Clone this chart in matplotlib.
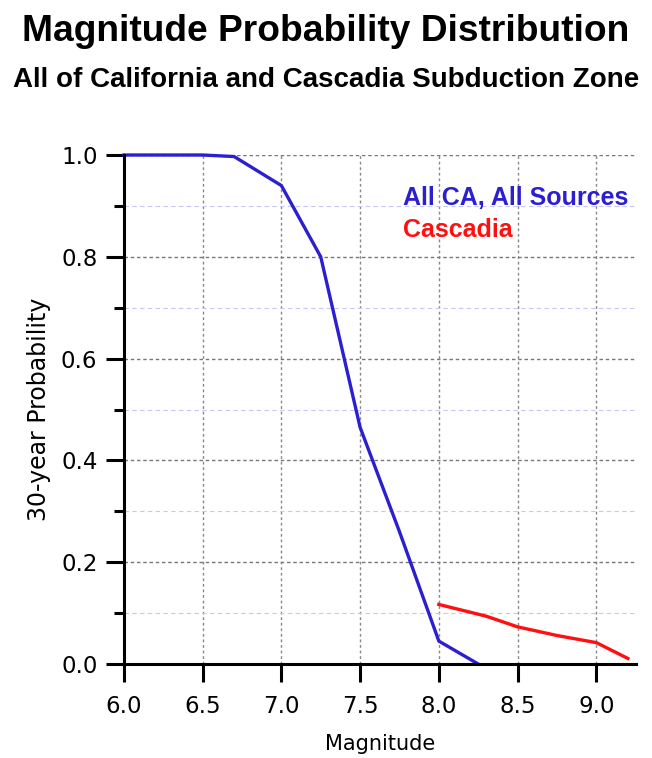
import matplotlib
matplotlib.use("Agg")
import matplotlib.pyplot as plt
from matplotlib.ticker import MultipleLocator

# Magnitude vs 30-year probability of exceedance
ca_mag = [6.0, 6.5, 6.7, 7.0, 7.25, 7.5, 7.75, 8.0, 8.25]
ca_prob = [1.0, 1.0, 0.997, 0.94, 0.80, 0.465, 0.26, 0.045, 0.0]

cascadia_mag = [8.0, 8.3, 8.5, 8.75, 9.0, 9.2]
cascadia_prob = [0.117, 0.094, 0.073, 0.056, 0.042, 0.011]

x_ticks = [6.0, 6.5, 7.0, 7.5, 8.0, 8.5, 9.0]
y_ticks = [0.0, 0.2, 0.4, 0.6, 0.8, 1.0]

blue = "#2b1fd0"
red = "#ff1010"

fig = plt.figure(figsize=(6.52, 7.58), dpi=100)
ax = fig.add_axes([0.190, 0.124, 0.785, 0.6715])

# grid: dark dotted verticals, dark dashed majors, light blue minors
ax.set_axisbelow(True)
ax.yaxis.set_minor_locator(MultipleLocator(0.1))
ax.grid(True, axis="x", which="major", color="#888888", linestyle=(0, (2, 2)), linewidth=1.0)
ax.grid(True, axis="y", which="major", color="#777777", linestyle=(0, (2.5, 2)), linewidth=1.0)
ax.grid(True, axis="y", which="minor", color="#c8c8f4", linestyle=(0, (4, 3)), linewidth=0.8)

ax.plot(ca_mag, ca_prob, color=blue, linewidth=2.4, solid_joinstyle="miter", clip_on=False)
ax.plot(cascadia_mag, cascadia_prob, color=red, linewidth=2.4, clip_on=False)

ax.set_xlim(6.0, 9.25)
ax.set_ylim(0.0, 1.0)
ax.set_xticks(x_ticks)
ax.set_yticks(y_ticks)
ax.set_xticklabels([f"{v:.1f}" for v in x_ticks])
ax.set_yticklabels([f"{v:.1f}" for v in y_ticks])

for side in ("top", "right"):
    ax.spines[side].set_visible(False)
for side in ("left", "bottom"):
    ax.spines[side].set_linewidth(2.2)
    ax.spines[side].set_color("black")

ax.tick_params(axis="both", which="major", direction="out", length=13, width=2.2,
               labelsize=16.5)
ax.tick_params(axis="y", which="major", pad=6)
ax.tick_params(axis="x", which="major", pad=9)
ax.tick_params(axis="y", which="minor", direction="out", length=7, width=2.2)
ax.tick_params(axis="x", which="minor", length=0)

ax.set_xlabel("Magnitude", fontsize=15, labelpad=12)
ax.set_ylabel("30-year Probability", fontsize=17, labelpad=7)

ax.text(0.545, 0.915, "All CA, All Sources", transform=ax.transAxes, color=blue,
        fontsize=18, fontweight="bold", family="Liberation Sans", ha="left", va="center")
ax.text(0.545, 0.853, "Cascadia", transform=ax.transAxes, color=red,
        fontsize=18, fontweight="bold", family="Liberation Sans", ha="left", va="center")

fig.text(0.5, 0.958, "Magnitude Probability Distribution", ha="center", va="center",
         fontsize=26.7, fontweight="bold", family="Liberation Sans")
fig.text(0.5, 0.895, "All of California and Cascadia Subduction Zone", ha="center",
         va="center", fontsize=20, fontweight="bold", family="Liberation Sans")

fig.savefig("out.png", dpi=100)
